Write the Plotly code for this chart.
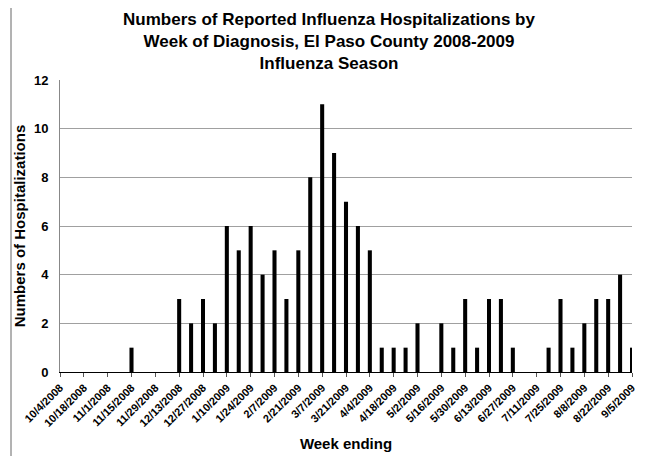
import plotly.graph_objects as go

weeks = ["10/4/2008", "10/11/2008", "10/18/2008", "10/25/2008", "11/1/2008", "11/8/2008",
         "11/15/2008", "11/22/2008", "11/29/2008", "12/6/2008", "12/13/2008", "12/20/2008",
         "12/27/2008", "1/3/2009", "1/10/2009", "1/17/2009", "1/24/2009", "1/31/2009",
         "2/7/2009", "2/14/2009", "2/21/2009", "2/28/2009", "3/7/2009", "3/14/2009",
         "3/21/2009", "3/28/2009", "4/4/2009", "4/11/2009", "4/18/2009", "4/25/2009",
         "5/2/2009", "5/9/2009", "5/16/2009", "5/23/2009", "5/30/2009", "6/6/2009",
         "6/13/2009", "6/20/2009", "6/27/2009", "7/4/2009", "7/11/2009", "7/18/2009",
         "7/25/2009", "8/1/2009", "8/8/2009", "8/15/2009", "8/22/2009", "8/29/2009",
         "9/5/2009"]
hospitalizations = [0, 0, 0, 0, 0, 0, 1, 0, 0, 0, 3, 2, 3, 2, 6, 5, 6, 4, 5, 3, 5, 8, 11, 9,
                    7, 6, 5, 1, 1, 1, 2, 0, 2, 1, 3, 1, 3, 3, 1, 0, 0, 1, 3, 1, 2, 3, 3, 4, 1]
tick_labels = weeks[::2]
y_ticks = [0, 2, 4, 6, 8, 10, 12]

FONT = "Liberation Sans, Arial, sans-serif"

fig = go.Figure()
fig.add_trace(go.Bar(x=weeks, y=hospitalizations, width=0.34,
                     marker=dict(color="black", line=dict(width=0))))

# page body adds an 8px offset; figure coordinates are screen minus 8
W, H = 642, 448
L, R, T, B = 52, 18, 72, 84
pw = W - L - R
ph = H - T - B

def px_x(px):
    return (px - L) / pw

fig.update_layout(
    width=W, height=H,
    margin=dict(l=L, r=R, t=T, b=B, autoexpand=False),
    paper_bgcolor="white", plot_bgcolor="white",
    showlegend=False,
    font=dict(family=FONT, color="black"),
    title=dict(
        text="<b>Numbers of Reported Influenza Hospitalizations by<br>Week of Diagnosis, El Paso County 2008-2009<br>Influenza Season</b>",
        x=0.5, xanchor="center", y=1 - 17.3 / H, yanchor="top",
        font=dict(family=FONT, size=17, color="black"),
    ),
    xaxis=dict(
        type="category", automargin=False,
        categoryorder="array", categoryarray=weeks,
        range=[0, len(weeks) - 1],
        tickmode="array", tickvals=tick_labels,
        ticktext=["<b>%s</b>" % t for t in tick_labels],
        tickangle=-45,
        tickfont=dict(family=FONT, size=11, color="black"),
        ticks="outside", ticklen=4, tickcolor="#555", tickwidth=1,
        showline=True, linecolor="black", linewidth=1,
        showgrid=False, zeroline=False,
        title=dict(text="<b>Week ending</b>", font=dict(family=FONT, size=15, color="black"), standoff=10),
    ),
    yaxis=dict(
        range=[0, 12], automargin=False,
        tickmode="array", tickvals=y_ticks,
        ticktext=["<b>%d</b>" % v for v in y_ticks],
        tickfont=dict(family=FONT, size=13, color="black"),
        ticklabelstandoff=8,
        showgrid=True, gridcolor="#a0a0a0", gridwidth=1,
        showline=True, linecolor="#888", linewidth=1,
        zeroline=False, ticks="", ticklen=0,
        title=dict(text="<b>Numbers of Hospitalizations</b>", font=dict(family=FONT, size=15, color="black"), standoff=4),
    ),
    shapes=[
        dict(type="line", xref="paper", yref="paper", layer="above",
             x0=px_x(3), x1=px_x(3), y0=-B / ph, y1=1 + T / ph,
             line=dict(color="#666", width=1)),
        dict(type="line", xref="paper", yref="paper", layer="above",
             x0=px_x(639), x1=px_x(639), y0=-B / ph, y1=1 + T / ph,
             line=dict(color="#999", width=2)),
    ],
)

fig.write_html("out.html")
